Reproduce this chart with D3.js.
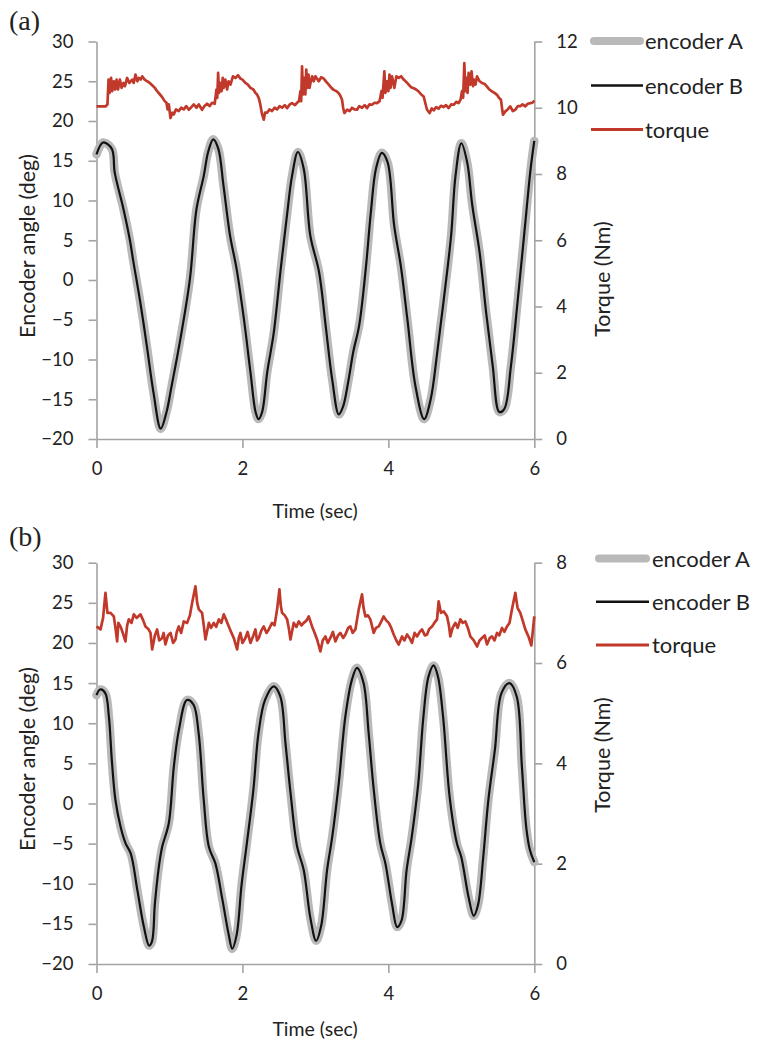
<!DOCTYPE html>
<html><head><meta charset="utf-8">
<script src="https://cdn.jsdelivr.net/npm/d3@7"></script>
<style>
body{margin:0;background:#fff}
svg{display:block}
</style>
</head><body>
<svg id="chart" width="765" height="1050"></svg>
<script>
// ---------- data ----------
const timeTicks = [0, 2, 4, 6];
const angleTicks = [-20, -15, -10, -5, 0, 5, 10, 15, 20, 25, 30];
const torqueTicksA = [0, 2, 4, 6, 8, 10, 12];
const torqueTicksB = [0, 2, 4, 6, 8];
const legendLabels = ["encoder A", "encoder B", "torque"];
const panelLabels = ["(a)", "(b)"];
const xTitle = "Time (sec)";
const yTitleLeft = "Encoder angle (deg)";
const yTitleRight = "Torque (Nm)";

// panel (a): encoder angle [time s, deg]
const encoderA_a = [[0,15.8],[0.09,17.3],[0.21,16.5],[0.25,13.5],[0.37,8.9],[0.46,4.9],[0.5,2.6],[0.6,-2.8],[0.69,-8.3],[0.78,-14.1],[0.88,-18.7],[0.96,-16.6],[1.03,-13.3],[1.15,-7.4],[1.28,0.1],[1.37,8.9],[1.47,13.1],[1.53,16.1],[1.6,17.7],[1.67,16.5],[1.74,11.9],[1.83,5.6],[1.92,1.4],[2.02,-4.9],[2.11,-11.6],[2.18,-16.6],[2.22,-17.5],[2.27,-16.6],[2.34,-11.6],[2.43,-6.6],[2.52,1.0],[2.61,8.1],[2.68,13.1],[2.76,16.1],[2.84,14.0],[2.93,5.6],[3.05,1.0],[3.14,-5.7],[3.23,-12.5],[3.32,-16.9],[3.38,-15.9],[3.45,-12.8],[3.52,-9.0],[3.6,-5.7],[3.69,1.4],[3.76,8.5],[3.83,14.0],[3.91,16.0],[3.99,14.8],[4.08,6.8],[4.17,1.8],[4.26,-4.9],[4.37,-13.3],[4.49,-17.5],[4.58,-15.0],[4.67,-9.1],[4.76,-2.4],[4.86,5.6],[4.92,13.1],[5.0,17.2],[5.08,14.8],[5.15,9.4],[5.25,3.5],[5.34,-4.1],[5.43,-10.8],[5.52,-16.6],[5.59,-16.2],[5.68,-10.8],[5.77,-2.8],[5.86,5.6],[5.95,14.0],[6.0,17.5]];
const encoderB_a = encoderA_a.map(d => [d[0], d[1]]);
// panel (a): torque [time s, Nm]
const torque_a = [[0,10.04],[0.123,10.04],[0.15,10.1],[0.165,10.85],[0.18,10.45],[0.2,10.9],[0.215,10.5],[0.237,10.8],[0.255,10.55],[0.275,10.85],[0.295,10.55],[0.32,10.85],[0.345,10.6],[0.37,10.75],[0.39,10.65],[0.42,10.9],[0.45,10.75],[0.489,10.85],[0.51,10.75],[0.534,11.0],[0.56,10.8],[0.58,10.9],[0.605,10.85],[0.626,10.95],[0.66,10.85],[0.694,10.8],[0.73,10.75],[0.763,10.68],[0.8,10.6],[0.831,10.5],[0.87,10.4],[0.9,10.32],[0.935,10.2],[0.959,10.15],[0.975,9.95],[0.991,10.1],[1.014,9.69],[1.04,9.85],[1.059,9.8],[1.09,9.95],[1.128,9.9],[1.16,10.0],[1.196,9.95],[1.23,10.05],[1.265,9.94],[1.3,10.02],[1.333,10.1],[1.37,10.0],[1.402,10.1],[1.447,9.94],[1.48,10.05],[1.516,10.12],[1.55,10.05],[1.584,10.15],[1.62,10.12],[1.644,10.55],[1.655,10.3],[1.667,11.05],[1.68,10.45],[1.699,10.75],[1.715,10.5],[1.73,10.9],[1.744,10.6],[1.765,10.85],[1.79,10.55],[1.81,10.8],[1.836,10.7],[1.87,10.95],[1.904,10.9],[1.94,10.98],[1.973,10.88],[2.0,10.85],[2.041,10.75],[2.075,10.7],[2.11,10.6],[2.15,10.55],[2.178,10.45],[2.2,10.4],[2.224,10.29],[2.245,10.1],[2.269,9.8],[2.292,9.64],[2.31,9.85],[2.338,9.85],[2.37,9.95],[2.406,9.9],[2.44,10.0],[2.475,9.95],[2.51,10.05],[2.543,10.0],[2.58,10.08],[2.612,9.99],[2.65,10.1],[2.68,10.14],[2.72,10.08],[2.749,10.15],[2.775,10.2],[2.795,10.5],[2.805,10.2],[2.817,11.25],[2.83,10.4],[2.849,10.9],[2.862,10.4],[2.875,11.15],[2.886,10.6],[2.905,11.0],[2.92,10.6],[2.932,10.75],[2.955,10.95],[2.977,10.8],[3.0,10.95],[3.046,10.8],[3.08,10.92],[3.114,10.88],[3.15,10.78],[3.183,10.7],[3.22,10.6],[3.251,10.54],[3.29,10.5],[3.32,10.44],[3.345,10.35],[3.365,10.24],[3.38,10.0],[3.397,9.84],[3.434,9.94],[3.47,9.9],[3.502,10.0],[3.535,9.95],[3.571,9.94],[3.6,10.05],[3.639,10.0],[3.675,10.08],[3.708,9.99],[3.74,10.1],[3.776,10.09],[3.81,10.15],[3.845,10.14],[3.88,10.2],[3.905,10.5],[3.92,10.3],[3.945,11.1],[3.96,10.45],[3.982,10.8],[4.0,10.5],[4.015,11.0],[4.03,10.6],[4.05,10.95],[4.082,10.6],[4.11,10.95],[4.142,10.9],[4.175,10.95],[4.21,10.85],[4.245,10.78],[4.279,10.7],[4.31,10.62],[4.347,10.59],[4.38,10.55],[4.416,10.49],[4.45,10.4],[4.484,10.34],[4.505,10.15],[4.53,9.94],[4.566,9.84],[4.595,9.98],[4.621,9.92],[4.655,10.02],[4.689,9.97],[4.72,10.06],[4.758,10.02],[4.79,10.08],[4.826,9.99],[4.86,10.1],[4.895,10.09],[4.93,10.18],[4.963,10.14],[4.99,10.25],[5.009,10.5],[5.025,10.3],[5.041,11.35],[5.055,10.5],[5.07,10.9],[5.085,10.45],[5.1,11.05],[5.123,10.7],[5.14,11.1],[5.16,10.65],[5.174,10.85],[5.195,10.7],[5.215,10.95],[5.25,10.8],[5.283,10.75],[5.32,10.72],[5.352,10.64],[5.385,10.55],[5.42,10.49],[5.455,10.45],[5.489,10.39],[5.515,10.3],[5.543,10.24],[5.56,9.95],[5.571,9.79],[5.603,9.89],[5.635,9.95],[5.671,10.04],[5.705,9.9],[5.74,9.94],[5.775,10.05],[5.808,10.05],[5.84,10.1],[5.877,10.04],[5.91,10.12],[5.945,10.14],[5.975,10.15],[6.0,10.22]];

// panel (b): encoder angle [time s, deg]
const encoderA_b = [[0,13.5],[0.05,14.2],[0.12,13.75],[0.17,10.8],[0.21,5.4],[0.26,0.4],[0.33,-2.9],[0.4,-5.0],[0.47,-6.25],[0.56,-10.8],[0.65,-15.4],[0.72,-17.7],[0.76,-17.2],[0.8,-12.5],[0.85,-8.2],[0.9,-5.4],[0.99,-2.5],[1.06,4.6],[1.13,9.2],[1.24,12.9],[1.33,12.3],[1.4,8.75],[1.47,0.4],[1.54,-5.4],[1.63,-7.5],[1.72,-11.7],[1.81,-16.25],[1.86,-18.1],[1.92,-16.4],[1.99,-10.0],[2.06,-5.0],[2.15,1.7],[2.22,8.75],[2.31,12.9],[2.43,14.6],[2.52,13.3],[2.59,7.5],[2.66,1.25],[2.75,-5.4],[2.84,-8.3],[2.93,-14.2],[3.01,-17.1],[3.08,-15.2],[3.16,-8.3],[3.23,-4.2],[3.32,2.5],[3.41,10.8],[3.5,15.4],[3.57,16.9],[3.66,15.0],[3.73,8.75],[3.8,1.7],[3.89,-5.0],[3.96,-7.5],[4.05,-12.5],[4.12,-15.4],[4.18,-14.6],[4.25,-8.3],[4.32,-4.2],[4.41,2.5],[4.48,10.8],[4.55,15.8],[4.62,17.2],[4.68,15.8],[4.75,10.8],[4.84,0.8],[4.94,-5.0],[5.0,-6.7],[5.1,-11.7],[5.17,-14.0],[5.23,-12.6],[5.3,-6.7],[5.37,0.4],[5.46,6.7],[5.55,13.75],[5.66,15.0],[5.76,13.3],[5.83,4.6],[5.89,-3.0],[5.94,-5.8],[6.0,-7.3]];
const encoderB_b = encoderA_b.map(d => [d[0], d[1]]);
// panel (b): torque [time s, Nm]
const torque_b = [[0,6.73],[0.055,6.67],[0.09,6.9],[0.123,7.4],[0.15,7.0],[0.192,7.0],[0.237,6.93],[0.26,6.7],[0.283,6.43],[0.3,6.8],[0.329,6.73],[0.36,6.6],[0.397,6.43],[0.42,6.75],[0.443,6.87],[0.48,6.8],[0.511,6.97],[0.55,6.9],[0.603,6.97],[0.64,6.85],[0.671,6.73],[0.71,6.68],[0.74,6.6],[0.763,6.27],[0.8,6.55],[0.831,6.67],[0.86,6.45],[0.9,6.5],[0.92,6.6],[0.945,6.37],[0.98,6.55],[1.014,6.6],[1.05,6.4],[1.082,6.47],[1.1,6.62],[1.128,6.73],[1.16,6.6],[1.196,6.83],[1.242,6.8],[1.28,6.95],[1.311,7.2],[1.356,7.53],[1.38,7.2],[1.402,7.07],[1.447,7.0],[1.47,6.75],[1.493,6.47],[1.539,6.8],[1.57,6.7],[1.607,6.8],[1.64,6.72],[1.676,6.87],[1.71,6.8],[1.744,6.97],[1.78,6.85],[1.813,6.73],[1.85,6.6],[1.881,6.5],[1.927,6.27],[1.95,6.5],[1.973,6.6],[2.0,6.4],[2.041,6.5],[2.07,6.62],[2.11,6.4],[2.15,6.55],[2.178,6.67],[2.2,6.45],[2.224,6.5],[2.26,6.65],[2.292,6.73],[2.33,6.6],[2.361,6.67],[2.406,6.8],[2.44,6.75],[2.475,7.07],[2.507,7.47],[2.525,7.15],[2.543,7.0],[2.58,6.95],[2.612,6.87],[2.635,6.7],[2.658,6.47],[2.703,6.8],[2.74,6.72],[2.772,6.83],[2.81,6.75],[2.84,6.8],[2.88,6.85],[2.909,6.93],[2.954,6.73],[2.99,6.6],[3.023,6.47],[3.068,6.23],[3.1,6.45],[3.137,6.53],[3.17,6.4],[3.205,6.5],[3.24,6.62],[3.274,6.43],[3.31,6.55],[3.342,6.6],[3.38,6.5],[3.411,6.57],[3.45,6.7],[3.479,6.73],[3.51,6.6],[3.548,6.67],[3.594,7.07],[3.639,7.37],[3.66,7.1],[3.685,6.93],[3.72,6.95],[3.753,6.87],[3.799,6.6],[3.83,6.7],[3.868,6.73],[3.9,6.82],[3.936,6.93],[3.97,6.85],[4.005,6.8],[4.04,6.7],[4.073,6.57],[4.11,6.45],[4.142,6.37],[4.187,6.53],[4.22,6.45],[4.256,6.57],[4.29,6.5],[4.324,6.4],[4.36,6.6],[4.393,6.53],[4.43,6.62],[4.461,6.67],[4.5,6.55],[4.53,6.57],[4.56,6.68],[4.598,6.73],[4.63,6.8],[4.667,6.87],[4.689,7.23],[4.72,7.0],[4.758,7.03],[4.804,6.93],[4.83,6.75],[4.849,6.53],[4.88,6.7],[4.918,6.8],[4.95,6.7],[4.986,6.87],[5.02,6.8],[5.055,6.83],[5.09,6.7],[5.123,6.53],[5.17,6.45],[5.215,6.33],[5.25,6.45],[5.283,6.5],[5.32,6.55],[5.352,6.37],[5.39,6.5],[5.42,6.53],[5.455,6.45],[5.489,6.6],[5.52,6.55],[5.557,6.7],[5.59,6.62],[5.626,6.73],[5.66,6.8],[5.694,7.07],[5.74,7.4],[5.77,7.1],[5.808,7.0],[5.84,6.85],[5.877,6.67],[5.92,6.53],[5.96,6.35],[6.0,6.93]];

// ---------- layout / style ----------
const FONT = "Lato, 'Open Sans', sans-serif";
const COLORS = {encA: "#b9b9b9", encB: "#111111", torque: "#c0392b", axis: "#a3a3a3", text: "#222"};
const panels = [
  {label: panelLabels[0], labelY: 30, top: 41.5, bottom: 439, encA: encoderA_a, encB: encoderB_a, torque: torque_a,
   tMax: 12, tTicks: torqueTicksA, legendX: [591, 643], legendY: [41, 85.5, 129.5], legendTextX: 645,
   titleLeftY: 246, titleRightY: 279, xTitleY: 518},
  {label: panelLabels[1], labelY: 546, top: 562.7, bottom: 964, encA: encoderA_b, encB: encoderB_b, torque: torque_b,
   tMax: 8, tTicks: torqueTicksB, legendX: [596, 649], legendY: [558.5, 601.7, 645], legendTextX: 652,
   titleLeftY: 759, titleRightY: 755, xTitleY: 1036}
];
const X0 = 96.5, X1 = 534.3;

const svg = d3.select("#chart");

panels.forEach(p => {
  const g = svg.append("g");
  const x = d3.scaleLinear().domain([0, 6]).range([X0, X1]);
  const y = d3.scaleLinear().domain([-20, 30]).range([p.bottom, p.top]);
  const yT = d3.scaleLinear().domain([0, p.tMax]).range([p.bottom, p.top]);

  function styleAxis(sel) {
    sel.attr("font-family", FONT).attr("font-size", 18.5).attr("color", COLORS.axis);
    sel.selectAll("path, line").attr("stroke", COLORS.axis).attr("stroke-width", 1.6);
    sel.selectAll("text").attr("fill", COLORS.text);
  }

  g.append("g").attr("transform", `translate(${X0},0)`)
    .call(d3.axisLeft(y).tickValues(angleTicks).tickSize(8).tickSizeOuter(0).tickPadding(15))
    .call(styleAxis);
  g.append("g").attr("transform", `translate(${X1},0)`)
    .call(d3.axisRight(yT).tickValues(p.tTicks).tickSize(8).tickSizeOuter(0).tickPadding(14))
    .call(styleAxis);
  g.append("g").attr("transform", `translate(0,${p.bottom})`)
    .call(d3.axisBottom(x).tickValues(timeTicks).tickFormat(d3.format("d")).tickSize(9).tickSizeOuter(0).tickPadding(14))
    .call(styleAxis);

  const lineE = d3.line().x(d => x(d[0])).y(d => y(d[1])).curve(d3.curveCatmullRom.alpha(0.5));
  const lineT = d3.line().x(d => x(d[0])).y(d => yT(d[1]));

  g.append("path").datum(p.encA).attr("d", lineE).attr("fill", "none")
    .attr("stroke", COLORS.encA).attr("stroke-width", 8.5).attr("stroke-linejoin", "round").attr("stroke-linecap", "round");
  g.append("path").datum(p.encB).attr("d", lineE).attr("fill", "none")
    .attr("stroke", COLORS.encB).attr("stroke-width", 2.2).attr("stroke-linejoin", "round");
  g.append("path").datum(p.torque).attr("d", lineT).attr("fill", "none")
    .attr("stroke", COLORS.torque).attr("stroke-width", 2.7).attr("stroke-linejoin", "round");

  // legend
  const legendStyles = [
    {c: COLORS.encA, w: 8, cap: "round"},
    {c: COLORS.encB, w: 2.4, cap: "butt"},
    {c: COLORS.torque, w: 3.2, cap: "butt"}
  ];
  legendLabels.forEach((lab, i) => {
    const s = legendStyles[i];
    g.append("line").attr("x1", p.legendX[0] + (i === 0 ? 3 : 0)).attr("x2", p.legendX[1] - (i === 0 ? 3 : 0))
      .attr("y1", p.legendY[i]).attr("y2", p.legendY[i])
      .attr("stroke", s.c).attr("stroke-width", s.w).attr("stroke-linecap", s.cap);
    g.append("text").attr("x", p.legendTextX).attr("y", p.legendY[i] + 8)
      .attr("font-family", FONT).attr("font-size", 22).attr("fill", COLORS.text).text(lab);
  });

  // titles
  g.append("text").attr("transform", `translate(35,${p.titleLeftY}) rotate(-90)`)
    .attr("text-anchor", "middle").attr("font-family", FONT).attr("font-size", 21.5).attr("fill", COLORS.text)
    .text(yTitleLeft);
  g.append("text").attr("transform", `translate(610,${p.titleRightY}) rotate(-90)`)
    .attr("text-anchor", "middle").attr("font-family", FONT).attr("font-size", 21.5).attr("fill", COLORS.text)
    .text(yTitleRight);
  g.append("text").attr("x", 315).attr("y", p.xTitleY)
    .attr("text-anchor", "middle").attr("font-family", FONT).attr("font-size", 19.5).attr("fill", COLORS.text)
    .text(xTitle);
  g.append("text").attr("x", 9).attr("y", p.labelY)
    .attr("font-family", "'Liberation Serif', 'DejaVu Serif', serif").attr("font-size", 28).attr("fill", COLORS.text)
    .text(p.label);
});
</script>
</body></html>
